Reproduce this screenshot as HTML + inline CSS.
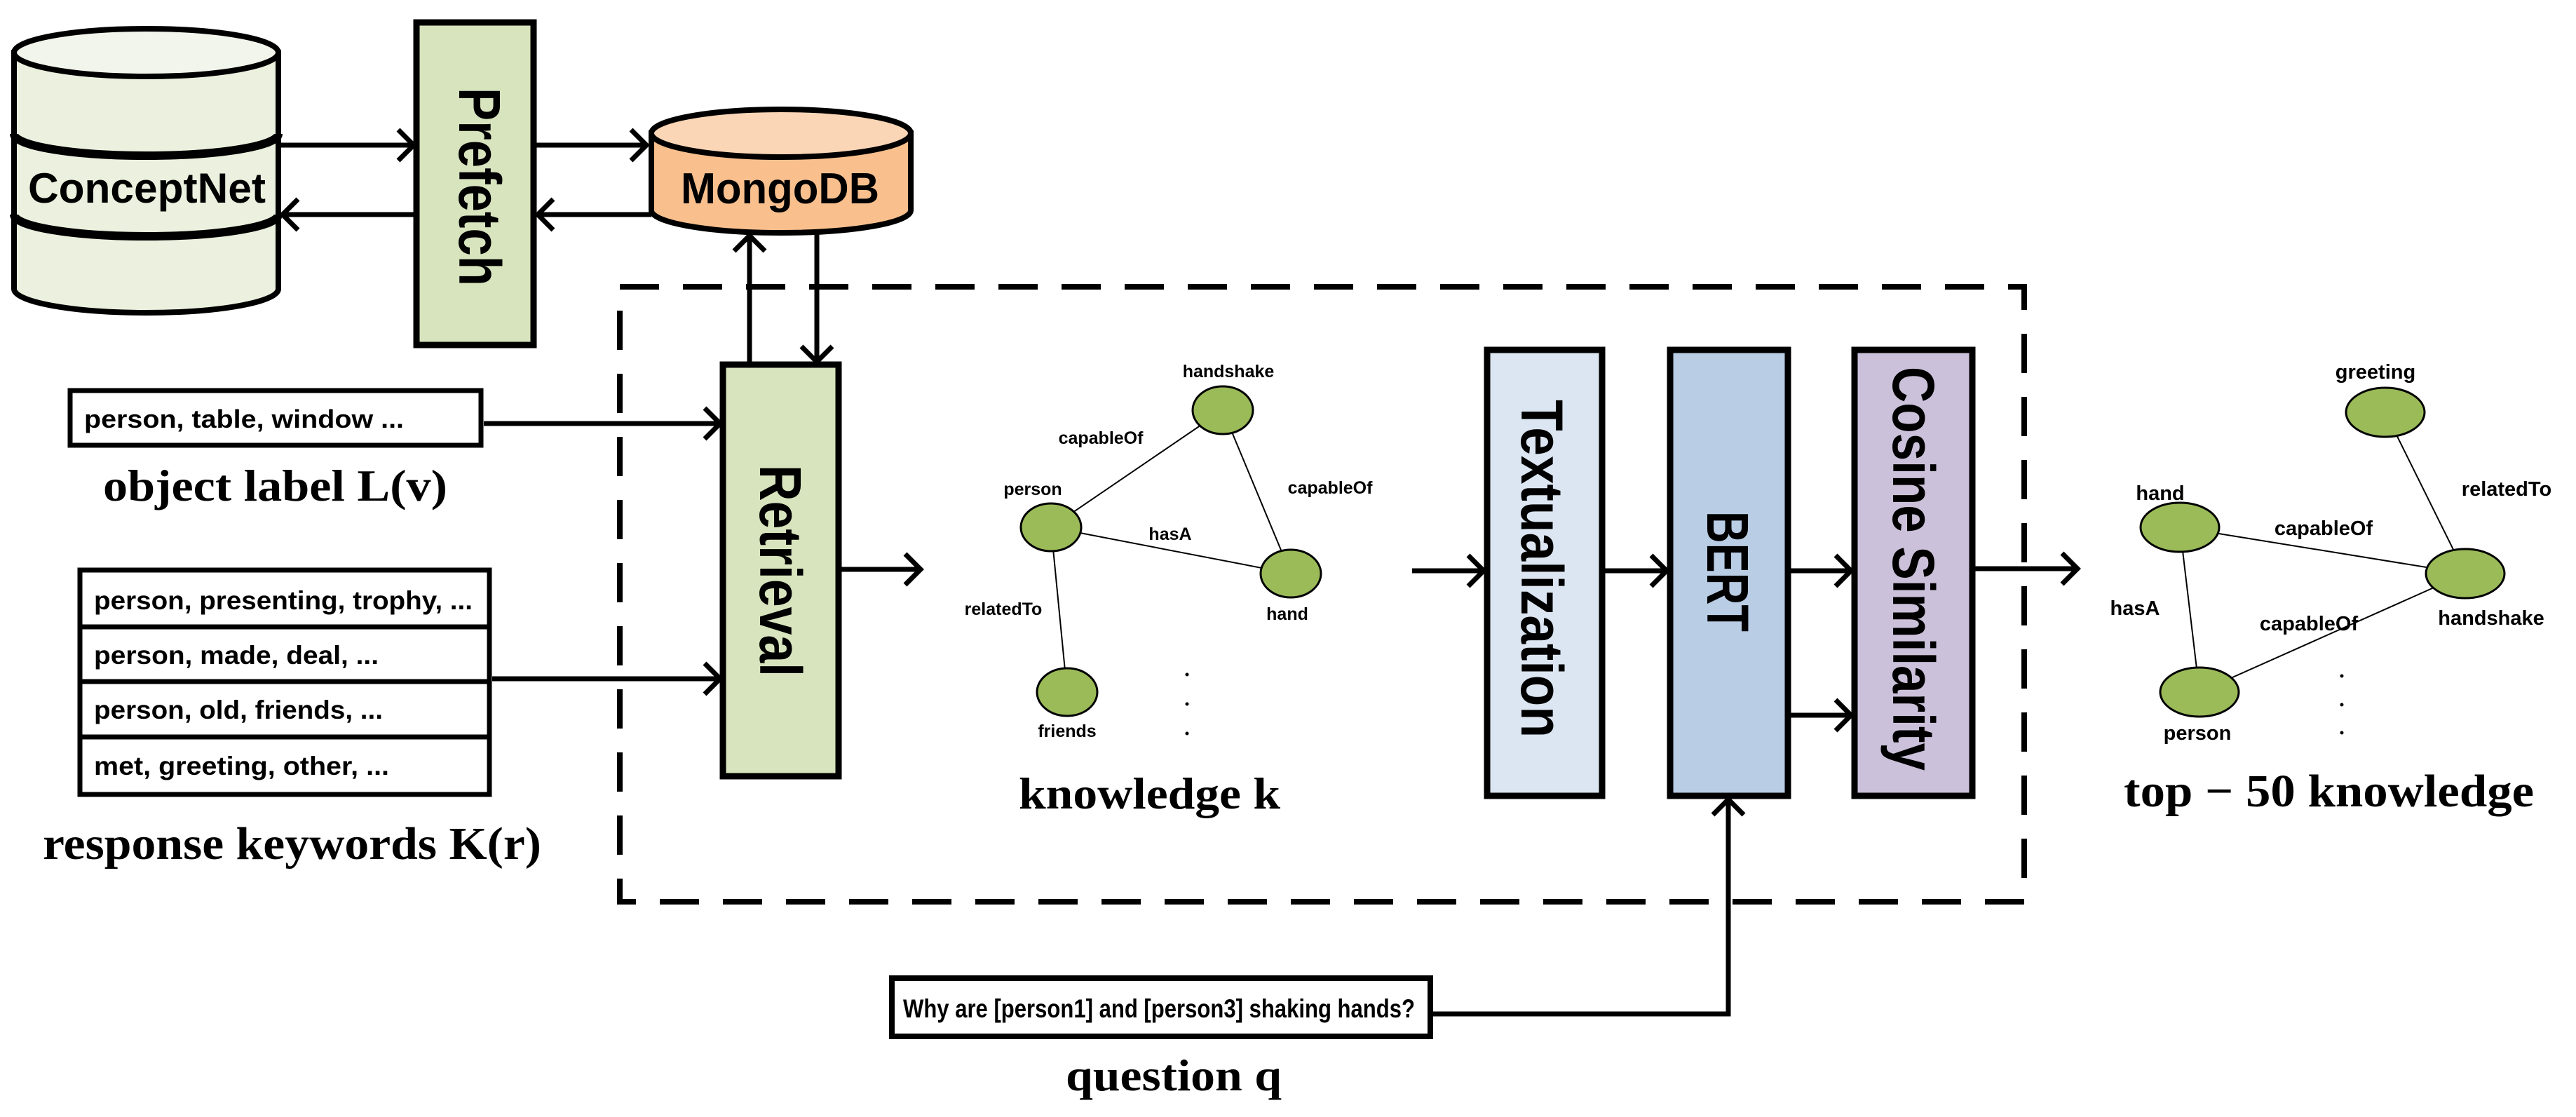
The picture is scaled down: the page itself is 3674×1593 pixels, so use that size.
<!DOCTYPE html>
<html><head><meta charset="utf-8"><style>
html,body{margin:0;padding:0;background:#fff;}
svg{display:block;}
.c{font-family:"Liberation Sans",sans-serif;font-weight:bold;fill:#000;}
.s{font-family:"Liberation Serif",serif;font-weight:bold;fill:#000;}
.n{fill:#9bbb59;stroke:#000;stroke-width:3;}
.e{stroke:#000;stroke-width:2;}
.a{fill:none;stroke:#000;stroke-width:7;}
</style></head><body>
<svg width="3674" height="1593" viewBox="0 0 3674 1593" xmlns="http://www.w3.org/2000/svg">
<!-- ConceptNet cylinder -->
<path d="M20,75 L20,412 A188.5,34 0 0 0 397,412 L397,75 Z" fill="#ebf1de" stroke="#000" stroke-width="8"/>
<ellipse cx="208.5" cy="75" rx="188.5" ry="34" fill="#f2f5eb" stroke="#000" stroke-width="8"/>
<path d="M20,191 A188.5,31 0 0 0 397,191" fill="none" stroke="#000" stroke-width="12"/>
<path d="M20,306 A188.5,31 0 0 0 397,306" fill="none" stroke="#000" stroke-width="12"/>
<text class="c" x="40" y="289" font-size="60" textLength="339" lengthAdjust="spacingAndGlyphs">ConceptNet</text>

<!-- Prefetch -->
<rect x="594" y="32" width="167" height="460" fill="#d7e4bd" stroke="#000" stroke-width="9"/>
<text class="c" font-size="84" transform="translate(655,125) rotate(90)" textLength="283" lengthAdjust="spacingAndGlyphs">Prefetch</text>

<!-- MongoDB -->
<path d="M929,190 L929,300 A185,32 0 0 0 1299,300 L1299,190 Z" fill="#f9c08e" stroke="#000" stroke-width="8"/>
<ellipse cx="1114" cy="190" rx="185" ry="34" fill="#fbd6b6" stroke="#000" stroke-width="8"/>
<text class="c" x="971" y="290" font-size="62" textLength="283" lengthAdjust="spacingAndGlyphs">MongoDB</text>

<!-- top arrows -->
<line class="a" x1="397" y1="207" x2="590" y2="207"/><polyline class="a" points="568,185 590,207 568,229"/>
<line class="a" x1="761" y1="207" x2="922" y2="207"/><polyline class="a" points="900,185 922,207 900,229"/>
<line class="a" x1="594" y1="306" x2="403" y2="306"/><polyline class="a" points="425,284 403,306 425,328"/>
<line class="a" x1="929" y1="306" x2="767" y2="306"/><polyline class="a" points="789,284 767,306 789,328"/>

<!-- Dashed box -->
<rect x="884" y="409" width="2003" height="877" fill="none" stroke="#000" stroke-width="8" stroke-dasharray="56,34"/>

<!-- Retrieval -->
<rect x="1031" y="520" width="165" height="587" fill="#d7e4bd" stroke="#000" stroke-width="9"/>
<text class="c" font-size="84" transform="translate(1084,663) rotate(90)" textLength="302" lengthAdjust="spacingAndGlyphs">Retrieval</text>
<line class="a" x1="1069" y1="520" x2="1069" y2="336"/><polyline class="a" points="1047,358 1069,336 1091,358"/>
<line class="a" x1="1165" y1="334" x2="1165" y2="516"/><polyline class="a" points="1143,494 1165,516 1187,494"/>

<!-- object label box -->
<rect x="100" y="557" width="586" height="78" fill="#fff" stroke="#000" stroke-width="7"/>
<text class="c" x="120" y="610" font-size="36" textLength="456" lengthAdjust="spacingAndGlyphs">person, table, window ...</text>
<line class="a" x1="690" y1="604" x2="1027" y2="604"/><polyline class="a" points="1005,582 1027,604 1005,626"/>
<text class="s" x="147" y="714" font-size="64" textLength="491" lengthAdjust="spacingAndGlyphs">object label  L(v)</text>

<!-- keywords table -->
<rect x="114" y="813" width="584" height="320" fill="#fff" stroke="#000" stroke-width="7"/>
<line x1="114" y1="894" x2="698" y2="894" stroke="#000" stroke-width="7"/>
<line x1="114" y1="972" x2="698" y2="972" stroke="#000" stroke-width="7"/>
<line x1="114" y1="1051" x2="698" y2="1051" stroke="#000" stroke-width="7"/>
<text class="c" x="134" y="869" font-size="37" textLength="540" lengthAdjust="spacingAndGlyphs">person, presenting, trophy, ...</text>
<text class="c" x="134" y="947" font-size="37" textLength="406" lengthAdjust="spacingAndGlyphs">person, made, deal, ...</text>
<text class="c" x="134" y="1025" font-size="37" textLength="412" lengthAdjust="spacingAndGlyphs">person, old, friends, ...</text>
<text class="c" x="134" y="1105" font-size="37" textLength="421" lengthAdjust="spacingAndGlyphs">met, greeting, other, ...</text>
<line class="a" x1="702" y1="968" x2="1027" y2="968"/><polyline class="a" points="1005,946 1027,968 1005,990"/>
<text class="s" x="61" y="1225" font-size="66" textLength="711" lengthAdjust="spacingAndGlyphs">response keywords K(r)</text>

<!-- Retrieval -> knowledge -->
<line class="a" x1="1196" y1="812" x2="1313" y2="812"/><polyline class="a" points="1291,790 1313,812 1291,834"/>

<!-- knowledge graph -->
<line class="e" x1="1499" y1="752" x2="1744" y2="585"/>
<line class="e" x1="1744" y1="585" x2="1841" y2="818"/>
<line class="e" x1="1499" y1="752" x2="1841" y2="818"/>
<line class="e" x1="1499" y1="752" x2="1522" y2="987"/>
<ellipse class="n" cx="1744" cy="585" rx="43" ry="34"/>
<ellipse class="n" cx="1499" cy="752" rx="43" ry="34"/>
<ellipse class="n" cx="1841" cy="818" rx="43" ry="34"/>
<ellipse class="n" cx="1522" cy="987" rx="43" ry="34"/>
<g class="c" font-size="25" text-anchor="middle">
<text x="1752" y="538">handshake</text>
<text x="1570" y="633">capableOf</text>
<text x="1473" y="706">person</text>
<text x="1897" y="704">capableOf</text>
<text x="1669" y="770">hasA</text>
<text x="1431" y="877">relatedTo</text>
<text x="1836" y="884">hand</text>
<text x="1522" y="1051">friends</text>
</g>
<circle cx="1693" cy="962" r="2.5"/><circle cx="1693" cy="1004" r="2.5"/><circle cx="1693" cy="1046" r="2.5"/>
<text class="s" x="1453" y="1153" font-size="64" textLength="373" lengthAdjust="spacingAndGlyphs">knowledge k</text>

<!-- pipeline -->
<line class="a" x1="2014" y1="814" x2="2116" y2="814"/><polyline class="a" points="2094,792 2116,814 2094,836"/>
<rect x="2121" y="499" width="164" height="636" fill="#dce6f2" stroke="#000" stroke-width="9"/>
<text class="c" font-size="84" transform="translate(2170,570) rotate(90)" textLength="482" lengthAdjust="spacingAndGlyphs">Textualization</text>
<line class="a" x1="2285" y1="814" x2="2377" y2="814"/><polyline class="a" points="2355,792 2377,814 2355,836"/>
<rect x="2382" y="499" width="168" height="636" fill="#b9cde5" stroke="#000" stroke-width="9"/>
<text class="c" font-size="84" transform="translate(2435,729) rotate(90)" textLength="172" lengthAdjust="spacingAndGlyphs">BERT</text>
<line class="a" x1="2550" y1="814" x2="2640" y2="814"/><polyline class="a" points="2618,792 2640,814 2618,836"/>
<line class="a" x1="2550" y1="1020" x2="2640" y2="1020"/><polyline class="a" points="2618,998 2640,1020 2618,1042"/>
<rect x="2645" y="499" width="168" height="636" fill="#ccc1da" stroke="#000" stroke-width="9"/>
<text class="c" font-size="84" transform="translate(2700,523) rotate(90)" textLength="576" lengthAdjust="spacingAndGlyphs">Cosine Similarity</text>
<line class="a" x1="2813" y1="811" x2="2963" y2="811"/><polyline class="a" points="2941,789 2963,811 2941,833"/>

<!-- question -->
<rect x="1272" y="1395" width="768" height="83" fill="#fff" stroke="#000" stroke-width="8"/>
<text class="c" x="1288" y="1451" font-size="37" textLength="730" lengthAdjust="spacingAndGlyphs">Why are [person1] and [person3] shaking hands?</text>
<polyline class="a" points="2044,1446 2465,1446 2465,1140"/>
<polyline class="a" points="2443,1162 2465,1140 2487,1162"/>
<text class="s" x="1520" y="1555" font-size="64" textLength="308" lengthAdjust="spacingAndGlyphs">question q</text>

<!-- top-50 graph -->
<line class="e" x1="3402" y1="588" x2="3516" y2="818"/>
<line class="e" x1="3109" y1="752" x2="3516" y2="818"/>
<line class="e" x1="3109" y1="752" x2="3137" y2="987"/>
<line class="e" x1="3137" y1="987" x2="3516" y2="818"/>
<ellipse class="n" cx="3402" cy="588" rx="56" ry="35"/>
<ellipse class="n" cx="3109" cy="752" rx="56" ry="35"/>
<ellipse class="n" cx="3516" cy="818" rx="56" ry="35"/>
<ellipse class="n" cx="3137" cy="987" rx="56" ry="35"/>
<g class="c" font-size="29" text-anchor="middle">
<text x="3388" y="540">greeting</text>
<text x="3081" y="713">hand</text>
<text x="3575" y="707">relatedTo</text>
<text x="3314" y="763">capableOf</text>
<text x="3045" y="877">hasA</text>
<text x="3293" y="899">capableOf</text>
<text x="3553" y="891">handshake</text>
<text x="3134" y="1055">person</text>
</g>
<circle cx="3340" cy="964" r="2.5"/><circle cx="3340" cy="1005" r="2.5"/><circle cx="3340" cy="1045" r="2.5"/>
<text class="s" x="3029" y="1150" font-size="66" textLength="585" lengthAdjust="spacingAndGlyphs">top − 50 knowledge</text>
</svg>
</body></html>
